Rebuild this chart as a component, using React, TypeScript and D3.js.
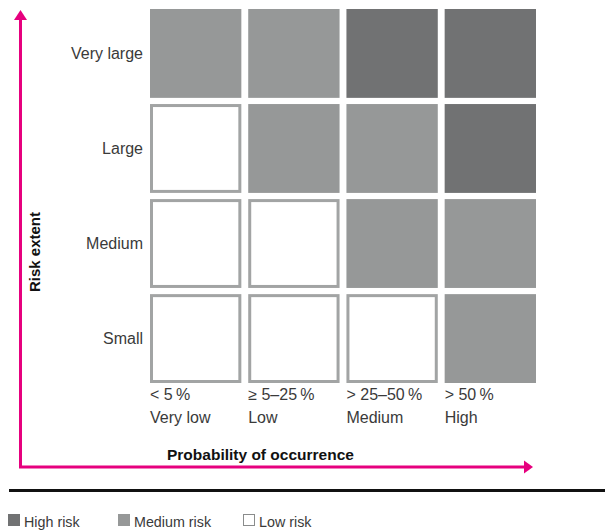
import React from "react";
import * as d3 from "d3";

const probabilities = ["< 5\u2009%", "\u2265 5\u201325\u2009%", "> 25\u201350\u2009%", "> 50\u2009%"];
const probabilityNames = ["Very low", "Low", "Medium", "High"];
const extents = ["Very large", "Large", "Medium", "Small"];
// risk level per row (top to bottom) and column (left to right): 2 high, 1 medium, 0 low
const riskMatrix = [
  [1, 1, 2, 2],
  [0, 1, 1, 2],
  [0, 0, 1, 1],
  [0, 0, 0, 1],
];
const legendLabels = ["High risk", "Medium risk", "Low risk"];
const legendLevels = [2, 1, 0];

const MAGENTA = "#e6007e";
const FILL: Record<number, string> = { 2: "#717273", 1: "#969898", 0: "#ffffff" };
const FONT = "'Liberation Sans', Arial, sans-serif";

export default function App() {
  const W = 605, H = 530;
  const x = d3.scaleBand<number>().domain([0, 1, 2, 3]).range([150, 536]).paddingInner(0.07).paddingOuter(0);
  const y = d3.scaleBand<number>().domain([0, 1, 2, 3]).range([9, 383]).paddingInner(0.065).paddingOuter(0);
  const cells: { r: number; c: number; v: number }[] = [];
  riskMatrix.forEach((row, r) => row.forEach((v, c) => cells.push({ r, c, v })));

  const legendX = [8, 118, 243];

  return (
    <svg width={W} height={H} style={{ position: "absolute", left: 0, top: 0 }} fontFamily={FONT}>
      {cells.map(({ r, c, v }) =>
        v === 0 ? (
          <rect key={`${r}-${c}`} x={x(c)! + 1.5} y={y(r)! + 1.5} width={x.bandwidth() - 3} height={y.bandwidth() - 3}
            fill="#fff" stroke="#a2a4a4" strokeWidth={3} />
        ) : (
          <rect key={`${r}-${c}`} x={x(c)!} y={y(r)!} width={x.bandwidth()} height={y.bandwidth()} fill={FILL[v]} />
        )
      )}
      {extents.map((e, i) => (
        <text key={e} x={143} y={y(i)! + y.bandwidth() / 2 + 5.5} textAnchor="end" fontSize={16} fill="#3a3a3a">{e}</text>
      ))}
      {probabilities.map((p, i) => (
        <g key={p}>
          <text x={x(i)!} y={400} fontSize={16} fill="#3a3a3a">{p}</text>
          <text x={x(i)!} y={423} fontSize={16} fill="#3a3a3a">{probabilityNames[i]}</text>
        </g>
      ))}
      {/* axes */}
      <path d="M20.5,20 L20.5,467 L524,467" fill="none" stroke={MAGENTA} strokeWidth={3} />
      <path d="M20.5,10 L14,20 L27,20 Z" fill={MAGENTA} />
      <path d="M533,467 L524,460.5 L524,473.5 Z" fill={MAGENTA} />
      <text x={167} y={460} fontSize={15.5} fontWeight="bold" fill="#111">Probability of occurrence</text>
      <text transform="translate(40,252) rotate(-90)" textAnchor="middle" fontSize={15} fontWeight="bold" fill="#111">Risk extent</text>
      <line x1={9} x2={605} y1={490.5} y2={490.5} stroke="#111" strokeWidth={3} />
      {legendLabels.map((l, i) => {
        const lv = legendLevels[i];
        return (
          <g key={l}>
            {lv === 0 ? (
              <rect x={legendX[i] + 0.5} y={514.5} width={11} height={11} fill="#fff" stroke="#8a8c8c" strokeWidth={1} />
            ) : (
              <rect x={legendX[i]} y={514} width={12} height={12} fill={FILL[lv]} />
            )}
            <text x={legendX[i] + 16} y={527} fontSize={14.3} fill="#3a3a3a">{l}</text>
          </g>
        );
      })}
    </svg>
  );
}
